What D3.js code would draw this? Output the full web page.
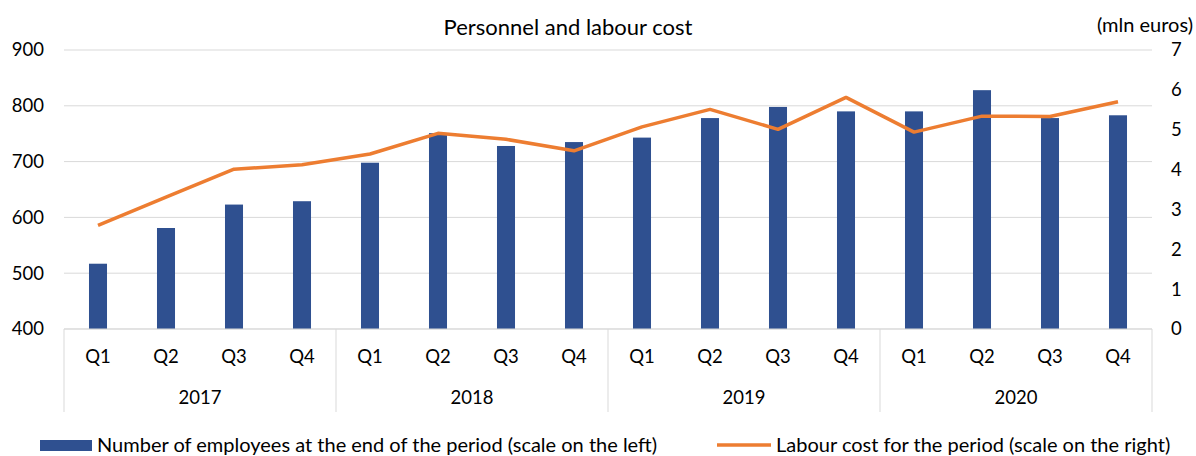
<!DOCTYPE html>
<html>
<head>
<meta charset="utf-8">
<script src="https://cdn.jsdelivr.net/npm/d3@7"></script>
<style>
  body { margin: 0; background: #fff; }
  text { font-family: Lato, "Open Sans", sans-serif; fill: #000; }
</style>
</head>
<body>
<svg id="chart" width="1196" height="456"></svg>
<script>
// chart data
var years = ['2017', '2018', '2019', '2020'];
var quarters = ['Q1', 'Q2', 'Q3', 'Q4'];
var employees = [517, 581, 623, 629, 698, 751, 728, 735, 743, 778, 798, 790, 790, 828, 778, 783];
var labourCost = [2.60, 3.31, 4.01, 4.12, 4.39, 4.91, 4.76, 4.47, 5.07, 5.51, 5.01, 5.81, 4.94, 5.34, 5.33, 5.70];
var leftTicks = [400, 500, 600, 700, 800, 900];
var rightTicks = [0, 1, 2, 3, 4, 5, 6, 7];
var legendLabels = ['Number of employees at the end of the period (scale on the left)',
                    'Labour cost for the period (scale on the right)'];

var barColor = '#2f5090', lineColor = '#ed7d31', gridColor = '#d9d9d9';

var svg = d3.select('#chart');
var margin = { left: 64, right: 44, top: 50, bottom: 127 };
var W = 1196, H = 456;
var x0 = margin.left, x1 = W - margin.right, y0 = H - margin.bottom, y1 = margin.top;

// one key per quarter
var keys = [];
years.forEach(function(y) { quarters.forEach(function(q) { keys.push(y + '-' + q); }); });

var x = d3.scaleBand().domain(keys).range([x0, x1]).paddingInner(0.735).paddingOuter(0.3675);
var yLeft = d3.scaleLinear().domain([400, 900]).range([y0, y1]);
var yRight = d3.scaleLinear().domain([0, 7]).range([y0, y1]);

// gridlines
svg.append('g').selectAll('line').data(leftTicks).enter().append('line')
    .attr('x1', x0).attr('x2', x1)
    .attr('y1', function(d) { return yLeft(d); }).attr('y2', function(d) { return yLeft(d); })
    .attr('stroke', gridColor).attr('stroke-width', 1);

// left axis labels
svg.append('g').selectAll('text').data(leftTicks).enter().append('text')
    .attr('x', 44).attr('y', function(d) { return yLeft(d); })
    .attr('dy', '0.35em').attr('text-anchor', 'end')
    .style('font-size', '18.5px')
    .text(function(d) { return d; });

// right axis labels
svg.append('g').selectAll('text').data(rightTicks).enter().append('text')
    .attr('x', 1171).attr('y', function(d) { return yRight(d); })
    .attr('dy', '0.35em').attr('text-anchor', 'start')
    .style('font-size', '18.5px')
    .text(function(d) { return d; });

// bars
svg.append('g').selectAll('rect').data(employees).enter().append('rect')
    .attr('x', function(d, i) { return x(keys[i]); })
    .attr('width', x.bandwidth())
    .attr('y', function(d) { return yLeft(d); })
    .attr('height', function(d) { return y0 - yLeft(d); })
    .attr('fill', barColor);

// category axis: baseline and separators
svg.append('line').attr('x1', x0).attr('x2', x1).attr('y1', y0).attr('y2', y0)
    .attr('stroke', gridColor).attr('stroke-width', 1);

var groupEdges = [keys[0]].concat(years.map(function(y) { return y + '-Q4'; }));
svg.append('g').selectAll('line').data(groupEdges).enter().append('line')
    .attr('x1', function(d, i) { return i === 0 ? x0 : x(d) + x.bandwidth() / 2 + x.step() / 2; })
    .attr('x2', function(d, i) { return i === 0 ? x0 : x(d) + x.bandwidth() / 2 + x.step() / 2; })
    .attr('y1', y0).attr('y2', 412)
    .attr('stroke', gridColor).attr('stroke-width', 1);

// quarter labels
svg.append('g').selectAll('text').data(keys).enter().append('text')
    .attr('x', function(d) { return x(d) + x.bandwidth() / 2; })
    .attr('y', 357).attr('dy', '0.35em').attr('text-anchor', 'middle')
    .style('font-size', '18.5px')
    .text(function(d) { return d.split('-')[1]; });

// year labels
svg.append('g').selectAll('text').data(years).enter().append('text')
    .attr('x', function(d) { return (x(d + '-Q1') + x(d + '-Q4') + x.bandwidth()) / 2; })
    .attr('y', 398).attr('dy', '0.35em').attr('text-anchor', 'middle')
    .style('font-size', '18.5px')
    .text(function(d) { return d; });

// labour cost line
var line = d3.line()
    .x(function(d, i) { return x(keys[i]) + x.bandwidth() / 2; })
    .y(function(d) { return yRight(d); });

svg.append('path').datum(labourCost)
    .attr('d', line)
    .attr('fill', 'none').attr('stroke', lineColor)
    .attr('stroke-width', 3.5).attr('stroke-linejoin', 'round');

// title and unit
svg.append('text').attr('x', 568).attr('y', 27).attr('dy', '0.35em')
    .attr('text-anchor', 'middle').style('font-size', '22px')
    .text('Personnel and labour cost');

svg.append('text').attr('x', 1193).attr('y', 25).attr('dy', '0.35em')
    .attr('text-anchor', 'end').style('font-size', '20px')
    .text('(mln euros)');

// legend
var lg = svg.append('g');
lg.append('rect').attr('x', 40).attr('y', 440).attr('width', 52).attr('height', 11).attr('fill', barColor);
lg.append('text').attr('x', 97).attr('y', 445).attr('dy', '0.35em')
    .style('font-size', '20px').text(legendLabels[0]);
lg.append('line').attr('x1', 717).attr('x2', 771).attr('y1', 445).attr('y2', 445)
    .attr('stroke', lineColor).attr('stroke-width', 3.5);
lg.append('text').attr('x', 776).attr('y', 445).attr('dy', '0.35em')
    .style('font-size', '20px').text(legendLabels[1]);
</script>
</body>
</html>
